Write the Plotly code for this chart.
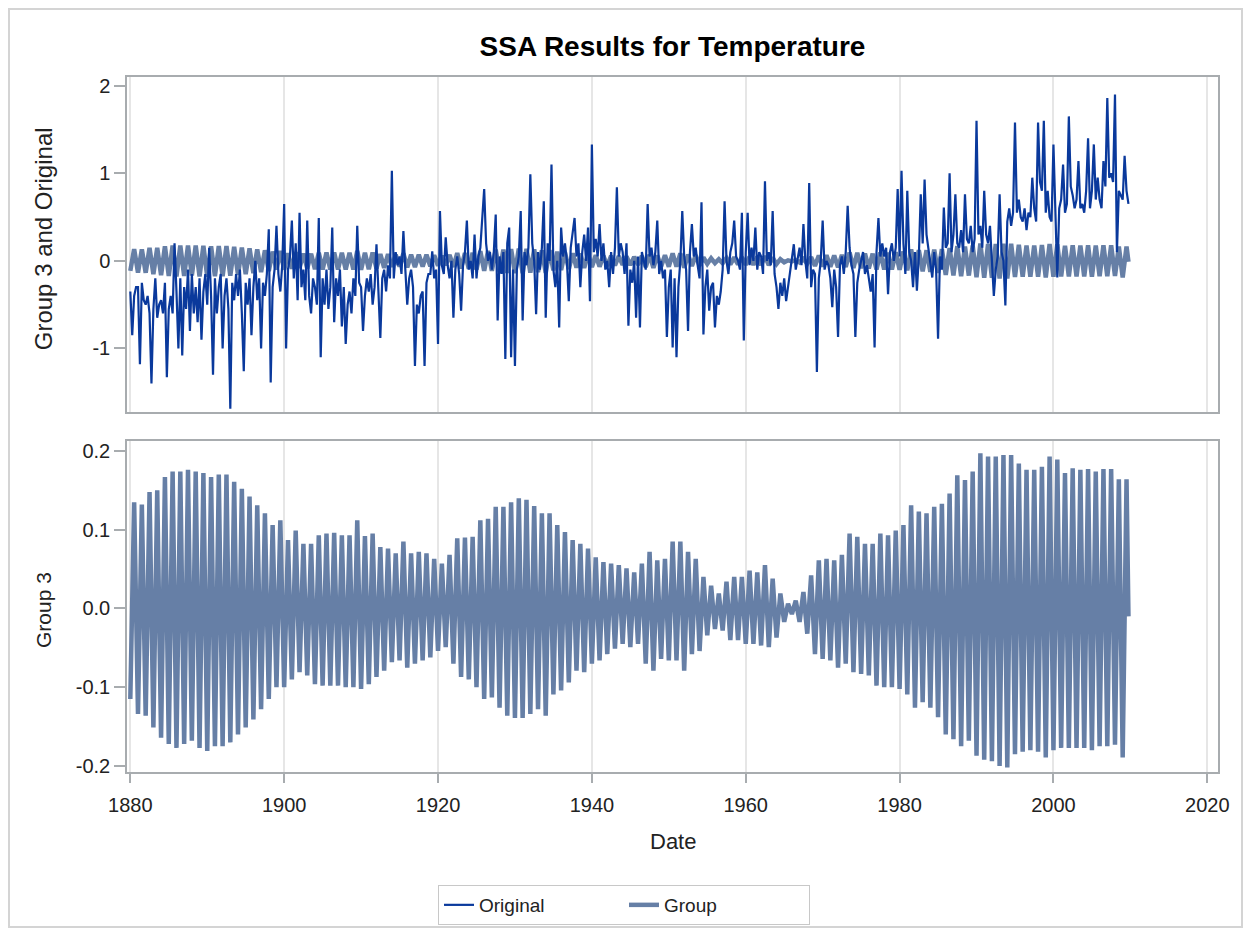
import plotly.graph_objects as go

# ---------------- data ----------------
years = list(range(1880, 2010))

# Original temperature anomaly, four readings per year (quarters)
original = [
    [-0.35, -0.85, -0.40, -0.30],  # 1880
    [-0.30, -1.18, -0.25, -0.45],  # 1881
    [-0.50, -0.40, -0.60, -1.40],  # 1882
    [-0.55, -0.20, -0.65, -0.50],  # 1883
    [-0.45, -0.60, -0.25, -1.33],  # 1884
    [-0.55, -0.40, -0.60, 0.20],   # 1885
    [-0.35, -1.00, -0.20, -1.08],  # 1886
    [-0.30, -0.55, -0.10, -0.80],  # 1887
    [-0.15, -0.60, -0.30, -0.70],  # 1888
    [-0.20, -0.90, -0.35, -0.15],  # 1889
    [-0.50, 0.15, -0.40, -1.30],   # 1890
    [-0.20, -0.60, -0.30, -0.15],  # 1891
    [-1.00, -0.40, -0.20, -0.55],  # 1892
    [-1.69, -0.25, -0.45, -0.15],  # 1893
    [-0.40, -0.10, -0.60, -1.26],  # 1894
    [-0.25, -0.50, -0.20, -0.85],  # 1895
    [-0.30, 0.00, -0.45, -0.20],   # 1896
    [-1.00, -0.25, -0.40, -0.15],  # 1897
    [0.36, -1.39, -0.30, -0.10],   # 1898
    [0.40, -0.15, -0.35, -0.05],   # 1899
    [0.65, -1.00, -0.10, 0.05],    # 1900
    [0.46, -0.20, 0.20, -0.45],    # 1901
    [0.55, -0.30, -0.10, -0.45],   # 1902
    [0.46, -0.40, -0.60, -0.20],   # 1903
    [-0.30, -0.50, 0.49, -1.10],   # 1904
    [-0.20, -0.50, -0.10, -0.55],  # 1905
    [-0.30, 0.38, -0.70, -0.20],   # 1906
    [-0.40, -0.10, -0.75, -0.30],  # 1907
    [-0.95, -0.50, -0.35, -0.60],  # 1908
    [-0.20, -0.40, 0.40, -0.25],   # 1909
    [-0.30, -0.80, -0.40, -0.20],  # 1910
    [-0.35, -0.15, -0.50, -0.30],  # 1911
    [0.19, -0.40, -0.88, -0.20],   # 1912
    [-0.10, -0.35, -0.05, -0.20],  # 1913
    [1.03, -0.20, 0.10, -0.05],    # 1914
    [0.05, -0.15, 0.34, -0.10],    # 1915
    [-0.50, -0.20, -0.10, -0.30],  # 1916
    [-1.20, -0.50, -0.60, -0.40],  # 1917
    [-0.35, -1.20, -0.25, -0.15],  # 1918
    [-0.15, 0.11, -0.20, -0.10],   # 1919
    [-0.95, 0.57, -0.05, -0.15],   # 1920
    [0.27, -0.05, -0.20, 0.00],    # 1921
    [-0.65, -0.10, 0.05, -0.15],   # 1922
    [-0.57, -0.05, 0.10, 0.46],    # 1923
    [-0.10, 0.00, -0.20, 0.30],    # 1924
    [-0.20, 0.05, 0.15, 0.49],     # 1925
    [0.82, 0.20, 0.00, 0.10],      # 1926
    [-0.10, 0.10, 0.53, -0.68],    # 1927
    [0.05, -0.15, 0.10, -1.12],    # 1928
    [0.20, 0.38, -1.10, -0.10],    # 1929
    [-1.20, -0.10, 0.05, 0.57],    # 1930
    [-0.68, 0.10, -0.05, 0.15],    # 1931
    [0.99, 0.20, 0.00, -0.61],     # 1932
    [0.10, -0.10, 0.15, 0.68],     # 1933
    [-0.65, 0.20, 0.00, 1.10],     # 1934
    [-0.10, -0.30, 0.00, -0.76],   # 1935
    [0.38, 0.05, 0.20, 0.00],      # 1936
    [-0.46, 0.15, 0.30, 0.49],     # 1937
    [0.05, 0.20, -0.30, 0.10],     # 1938
    [0.30, 0.00, 0.38, -0.46],     # 1939
    [1.33, 0.10, 0.25, 0.05],      # 1940
    [0.42, 0.00, 0.20, -0.10],     # 1941
    [0.00, -0.30, 0.10, -0.15],    # 1942
    [0.15, 0.84, 0.05, 0.20],      # 1943
    [0.10, -0.15, 0.20, -0.74],    # 1944
    [-0.10, -0.25, 0.00, -0.65],   # 1945
    [0.05, -0.76, 0.10, 0.00],     # 1946
    [-0.10, 0.65, 0.05, 0.15],     # 1947
    [-0.05, 0.10, 0.46, -0.15],    # 1948
    [0.00, -0.20, -0.10, -0.87],   # 1949
    [-0.30, -0.10, -0.99, -0.20],  # 1950
    [-1.10, -0.30, 0.00, 0.57],    # 1951
    [0.05, -0.10, -0.80, 0.10],    # 1952
    [0.42, 0.05, 0.15, -0.05],     # 1953
    [-0.20, 0.67, -0.84, -0.30],   # 1954
    [-0.10, -0.57, -0.30, -0.25],  # 1955
    [-0.76, -0.40, -0.50, -0.35],  # 1956
    [-0.10, 0.68, 0.00, -0.15],    # 1957
    [0.10, 0.20, 0.46, 0.05],      # 1958
    [0.00, -0.10, 0.55, -0.91],    # 1959
    [0.10, 0.55, -0.05, 0.15],     # 1960
    [0.00, 0.38, -0.10, 0.10],     # 1961
    [0.05, -0.15, 0.91, 0.00],     # 1962
    [0.10, -0.05, 0.57, -0.15],    # 1963
    [-0.30, -0.55, -0.25, -0.40],  # 1964
    [-0.20, -0.46, -0.30, -0.10],  # 1965
    [0.00, 0.19, -0.10, 0.05],     # 1966
    [0.15, -0.05, 0.42, 0.00],     # 1967
    [-0.20, 0.89, -0.30, -0.10],   # 1968
    [-0.15, -1.27, -0.20, 0.00],   # 1969
    [0.46, -0.10, 0.00, -0.05],    # 1970
    [-0.20, -0.53, -0.10, -0.30],  # 1971
    [-0.87, -0.05, 0.05, -0.15],   # 1972
    [0.10, 0.63, 0.15, -0.05],     # 1973
    [-0.15, -0.87, -0.25, -0.10],  # 1974
    [0.00, 0.10, -0.15, -0.05],    # 1975
    [-0.20, -0.35, -0.15, -0.99],  # 1976
    [0.10, 0.49, 0.05, 0.20],      # 1977
    [0.05, 0.15, -0.38, 0.10],     # 1978
    [0.20, 0.00, 0.15, 0.82],      # 1979
    [0.05, 1.03, 0.20, -0.15],     # 1980
    [0.80, 0.10, 0.00, -0.30],     # 1981
    [0.10, -0.34, 0.05, 0.76],     # 1982
    [0.20, 0.93, 0.30, 0.15],      # 1983
    [0.00, -0.19, 0.10, -0.10],    # 1984
    [-0.89, 0.05, -0.10, 0.61],    # 1985
    [0.15, 0.20, 1.00, 0.10],      # 1986
    [0.30, 0.76, 0.20, 0.15],      # 1987
    [0.35, 0.10, 0.76, 0.25],      # 1988
    [0.20, 0.40, 0.10, 0.25],      # 1989
    [1.60, 0.30, 0.40, 0.15],      # 1990
    [0.80, 0.30, 0.20, 0.40],      # 1991
    [0.00, -0.40, -0.10, 0.05],    # 1992
    [0.76, 0.10, 0.00, -0.51],     # 1993
    [0.45, 0.60, 0.40, 0.55],      # 1994
    [1.58, 0.55, 0.70, 0.50],      # 1995
    [0.45, 0.60, 0.35, 0.55],      # 1996
    [0.50, 0.95, 0.60, 0.45],      # 1997
    [1.58, 0.90, 0.80, 1.60],      # 1998
    [0.55, 0.80, 0.50, 0.45],      # 1999
    [1.33, 0.55, -0.19, 0.60],     # 2000
    [0.70, 1.10, 0.55, 0.65],      # 2001
    [1.65, 0.85, 0.75, 0.60],      # 2002
    [0.70, 1.14, 0.60, 0.65],      # 2003
    [0.55, 0.80, 1.40, 0.60],      # 2004
    [0.80, 1.33, 0.70, 0.95],      # 2005
    [0.70, 0.60, 1.14, 0.85],      # 2006
    [1.86, 0.95, 1.00, 0.90],      # 2007
    [1.90, 0.10, 0.80, 0.75],      # 2008
    [0.70, 1.20, 0.80, 0.65],      # 2009
]

# Group 3 reconstruction: yearly crest and trough of the oscillation
group_hi = [
    0.135, 0.132, 0.148, 0.150, 0.167, 0.174, 0.174, 0.176, 0.174, 0.172,
    0.167, 0.170, 0.170, 0.161, 0.152, 0.142, 0.131, 0.121, 0.106, 0.112,
    0.087, 0.099, 0.082, 0.082, 0.093, 0.095, 0.096, 0.093, 0.093, 0.112,
    0.092, 0.095, 0.078, 0.076, 0.070, 0.085, 0.070, 0.072, 0.070, 0.063,
    0.057, 0.068, 0.089, 0.090, 0.091, 0.112, 0.114, 0.129, 0.129, 0.135,
    0.140, 0.138, 0.130, 0.121, 0.121, 0.106, 0.097, 0.087, 0.082, 0.076,
    0.065, 0.059, 0.057, 0.055, 0.051, 0.046, 0.057, 0.072, 0.061, 0.063,
    0.085, 0.085, 0.072, 0.063, 0.040, 0.029, 0.019, 0.034, 0.040, 0.040,
    0.048, 0.046, 0.055, 0.038, 0.019, 0.006, 0.010, 0.021, 0.042, 0.061,
    0.063, 0.061, 0.068, 0.095, 0.091, 0.082, 0.082, 0.095, 0.093, 0.099,
    0.106, 0.131, 0.123, 0.121, 0.129, 0.133, 0.146, 0.169, 0.163, 0.174,
    0.197, 0.193, 0.193, 0.195, 0.195, 0.184, 0.176, 0.176, 0.180, 0.193,
    0.189, 0.172, 0.178, 0.176, 0.177, 0.174, 0.177, 0.177, 0.164, 0.164,
]
group_lo = [
    -0.115, -0.134, -0.136, -0.151, -0.164, -0.172, -0.177, -0.172, -0.168, -0.177,
    -0.181, -0.175, -0.175, -0.170, -0.160, -0.151, -0.141, -0.128, -0.115, -0.100,
    -0.100, -0.090, -0.081, -0.085, -0.096, -0.098, -0.098, -0.098, -0.100, -0.100,
    -0.102, -0.096, -0.087, -0.079, -0.068, -0.066, -0.075, -0.070, -0.066, -0.062,
    -0.054, -0.049, -0.070, -0.087, -0.090, -0.100, -0.115, -0.113, -0.126, -0.136,
    -0.139, -0.139, -0.134, -0.128, -0.136, -0.109, -0.104, -0.094, -0.079, -0.081,
    -0.070, -0.066, -0.058, -0.051, -0.045, -0.049, -0.045, -0.070, -0.079, -0.064,
    -0.066, -0.066, -0.079, -0.058, -0.054, -0.034, -0.026, -0.028, -0.040, -0.040,
    -0.045, -0.045, -0.047, -0.049, -0.037, -0.017, -0.007, -0.017, -0.032, -0.058,
    -0.064, -0.066, -0.075, -0.070, -0.081, -0.083, -0.085, -0.098, -0.100, -0.100,
    -0.102, -0.109, -0.126, -0.119, -0.126, -0.138, -0.160, -0.166, -0.175, -0.168,
    -0.187, -0.192, -0.194, -0.200, -0.202, -0.185, -0.182, -0.180, -0.182, -0.189,
    -0.180, -0.177, -0.177, -0.177, -0.177, -0.180, -0.175, -0.175, -0.173, -0.189,
]
group_end = -0.01

x_tick_vals = [1880, 1900, 1920, 1940, 1960, 1980, 2000, 2020]
top_tick_vals = [-1, 0, 1, 2]
top_tick_text = ["-1", "0", "1", "2"]
bottom_tick_vals = [-0.2, -0.1, 0.0, 0.1, 0.2]
bottom_tick_text = ["-0.2", "-0.1", "0.0", "0.1", "0.2"]

# ---------------- build series ----------------
orig_x, orig_y = [], []
for yr, qs in zip(years, original):
    for q, v in enumerate(qs):
        orig_x.append(yr + q * 0.25)
        orig_y.append(v)

grp_x, grp_y = [], []
for yr, lo, hi in zip(years, group_lo, group_hi):
    grp_x += [yr, yr + 0.5]
    grp_y += [lo, hi]
grp_x.append(years[-1] + 0.75)
grp_y.append(group_end)

ORIG_COLOR = "#0A399C"
GROUP_COLOR = "#667FA6"
FRAME = "#A8ACAF"
GRID = "#E6E6E6"
FONT = "Arial"
TXT = "#222222"

fig = go.Figure()
fig.add_trace(go.Scatter(x=grp_x, y=grp_y, mode="lines", name="Group",
                         line=dict(color=GROUP_COLOR, width=4.5),
                         xaxis="x", yaxis="y", showlegend=False))
fig.add_trace(go.Scatter(x=orig_x, y=orig_y, mode="lines", name="Original",
                         line=dict(color=ORIG_COLOR, width=2.2),
                         xaxis="x", yaxis="y", legendrank=1))
fig.add_trace(go.Scatter(x=grp_x, y=grp_y, mode="lines", name="Group",
                         line=dict(color=GROUP_COLOR, width=4.5),
                         xaxis="x2", yaxis="y2", legendrank=2))

W, H = 1235, 920
L, R, T, B = 119, 25, 69, 156
pw = W - L - R
ph = H - T - B

xcommon = dict(range=[1879.57, 2021.39], tickvals=x_tick_vals,
               showgrid=True, gridcolor=GRID, gridwidth=1.5,
               showline=True, mirror=True, linecolor=FRAME, linewidth=1.5,
               zeroline=False, tickfont=dict(family=FONT, size=20, color=TXT))
ycommon = dict(showgrid=False, zeroline=False, showline=True, mirror=True,
               linecolor=FRAME, linewidth=1.5, ticks="outside", ticklen=11,
               tickwidth=1.5, tickcolor=FRAME,
               tickfont=dict(family=FONT, size=20, color=TXT))

fig.update_layout(
    width=W, height=H,
    margin=dict(l=L, r=R, t=T, b=B, autoexpand=False),
    paper_bgcolor="white", plot_bgcolor="white",
    title=dict(text="<b>SSA Results for Temperature</b>", x=0.5, xref="paper",
               xanchor="center", y=1 - 38 / H, yanchor="middle",
               font=dict(family=FONT, size=28, color="#000000")),
    xaxis=dict(domain=[0, 1], anchor="y", showticklabels=False, ticks="",
               matches="x2", **xcommon),
    yaxis=dict(domain=[0.518, 1], anchor="x", range=[-1.726, 2.10],
               tickvals=top_tick_vals, ticktext=top_tick_text, **ycommon),
    xaxis2=dict(domain=[0, 1], anchor="y2", ticks="outside", ticklen=9,
                tickwidth=1.5, tickcolor=FRAME, ticklabelstandoff=5,
                **xcommon),
    yaxis2=dict(domain=[0, 0.4763], anchor="x2", range=[-0.2076, 0.2127],
                tickvals=bottom_tick_vals, ticktext=bottom_tick_text, **ycommon),
    legend=dict(orientation="h", xref="container", yref="container",
                x=0.4988, xanchor="center", y=1 - (885 - 8) / H,
                yanchor="top", bordercolor="#C8C8C8", borderwidth=1,
                font=dict(family=FONT, size=19, color=TXT),
                entrywidth=140, entrywidthmode="pixels"),
    annotations=[
        dict(text="Group 3 and Original", xref="paper", yref="paper",
             x=-0.077, y=0.768, textangle=-90, showarrow=False,
             xanchor="center", yanchor="middle",
             font=dict(family=FONT, size=24, color=TXT)),
        dict(text="Group 3", xref="paper", yref="paper",
             x=-0.077, y=0.233, textangle=-90, showarrow=False,
             xanchor="center", yanchor="middle",
             font=dict(family=FONT, size=21, color=TXT)),
        dict(text="Date", xref="paper", yref="paper",
             x=0.5, y=-0.1007, showarrow=False,
             xanchor="center", yanchor="middle",
             font=dict(family=FONT, size=22, color=TXT)),
    ],
    shapes=[dict(type="rect", xref="paper", yref="paper",
                 x0=-(L - 1) / pw, x1=1 + (R - 1) / pw,
                 y0=-(B - 1) / ph, y1=1 + (T - 1) / ph,
                 line=dict(color="#D4D4D4", width=2), layer="below")],
)

fig.write_html("out.html")
